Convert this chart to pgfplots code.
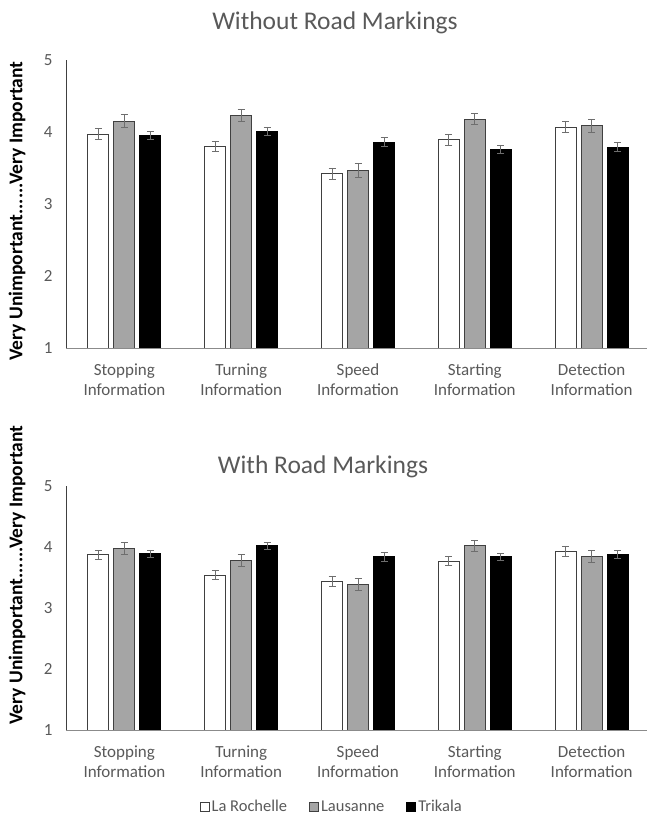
\documentclass[border=0pt]{standalone}
\usepackage{fontspec}
\setmainfont{Carlito}
\usepackage{pgfplots}
\usepackage{pgfplotstable}
\pgfplotsset{compat=1.18}
\definecolor{txtgray}{HTML}{595959}
\definecolor{barline}{HTML}{404040}
\definecolor{bargray}{HTML}{A5A5A5}
\definecolor{errgray}{HTML}{6E6E6E}

\pgfplotstableread{
x W We G Ge B Be
0 3.97 0.08 4.15 0.09 3.95 0.06
1 3.80 0.07 4.23 0.08 4.01 0.06
2 3.42 0.08 3.47 0.10 3.86 0.065
3 3.89 0.08 4.18 0.08 3.76 0.06
4 4.07 0.08 4.09 0.09 3.79 0.06
}\without

\pgfplotstableread{
x W We G Ge B Be
0 3.87 0.077 3.98 0.095 3.89 0.06
1 3.54 0.08 3.78 0.095 4.02 0.06
2 3.44 0.085 3.38 0.10 3.84 0.07
3 3.77 0.07 4.02 0.09 3.84 0.06
4 3.93 0.087 3.85 0.10 3.88 0.07
}\withm

\pgfplotsset{
  mychart/.style={
    scale only axis,
    width=584pt,
    ybar=5pt,
    bar width=21pt,
    xmin=-0.5, xmax=4.5,
    ymin=1, ymax=5,
    ytick={1,2,3,4,5},
    xtick={0,1,2,3,4},
    xticklabels={{Stopping\\Information},{Turning\\Information},{Speed\\Information},{Starting\\Information},{Detection\\Information}},
    major tick length=0pt,
    axis x line*=bottom,
    axis y line*=left,
    axis line style={draw=barline, line width=0.8pt, -},
    x axis line style={draw=txtgray!70},
    tick label style={font=\fontsize{17}{20}\selectfont, text=txtgray},
    xticklabel style={align=center, yshift=-12pt},
    yticklabel style={xshift=-10pt},
    /pgf/number format/assume math mode=true,
    clip=true,
  },
  errs/.style={
    error bars/y dir=both, error bars/y explicit,
    error bars/error bar style={color=errgray, line width=0.9pt},
    error bars/error mark options={color=errgray, line width=0.9pt, mark size=3.5pt, rotate=90},
  },
  wbar/.style={fill=white, draw=barline, line width=0.9pt, errs},
  gbar/.style={fill=bargray, draw=barline, line width=0.9pt, errs},
  bbar/.style={fill=black, draw=black, line width=0.9pt, errs},
}

\begin{document}
\begin{tikzpicture}[x=1pt,y=1pt]
\useasboundingbox (0,0) rectangle (646,821);

\node[font=\fontsize{25.5}{30}\selectfont, text=txtgray] at (335,798) {Without Road Markings};
\node[font=\fontsize{25.5}{30}\selectfont, text=txtgray] at (323,354) {With Road Markings};

\node[rotate=90, font=\bfseries\fontsize{19.5}{22}\selectfont] at (17,610) {Very Unimportant......Very Important};
\node[rotate=90, font=\bfseries\fontsize{19.5}{22}\selectfont] at (17,246) {Very Unimportant......Very Important};

\begin{axis}[mychart, at={(66pt,473pt)}, anchor=south west, height=288pt]
\addplot[wbar] table[x=x, y=W, y error=We] {\without};
\addplot[gbar] table[x=x, y=G, y error=Ge] {\without};
\addplot[bbar] table[x=x, y=B, y error=Be] {\without};
\end{axis}

\begin{axis}[mychart, at={(66pt,91pt)}, anchor=south west, height=244pt,
  legend style={at={(0.455,-0.315)}, anchor=center, draw=none, fill=none,
    font=\fontsize{16.5}{19}\selectfont, text=txtgray, legend columns=3,
    /tikz/every even column/.append style={column sep=20pt}},
  legend cell align=left,
  legend image code/.code={\draw[#1] (0pt,-4.5pt) rectangle (9pt,4.5pt);}]
\addplot[wbar] table[x=x, y=W, y error=We] {\withm};
\addplot[gbar] table[x=x, y=G, y error=Ge] {\withm};
\addplot[bbar] table[x=x, y=B, y error=Be] {\withm};
\legend{La Rochelle, Lausanne, Trikala}
\end{axis}
\end{tikzpicture}
\end{document}
